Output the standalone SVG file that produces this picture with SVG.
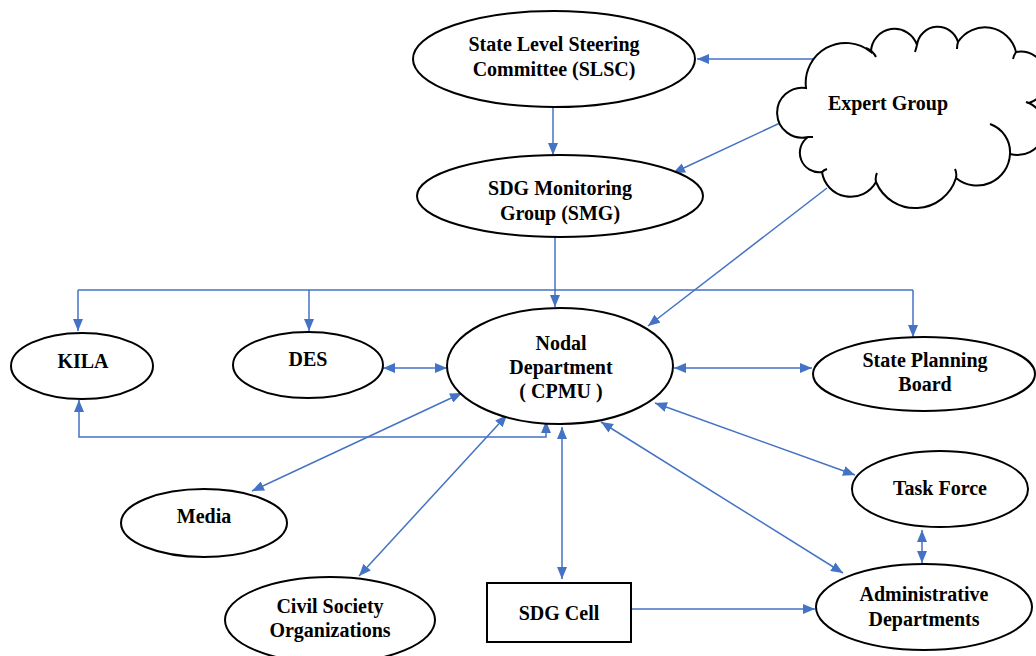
<svg xmlns="http://www.w3.org/2000/svg" width="1036" height="656" viewBox="0 0 1036 656">
<style>
.n{fill:#fff;stroke:#000;stroke-width:2}
.h{fill:none;stroke:#000;stroke-width:2}
.t{font-family:"Liberation Serif","Times New Roman",serif;font-weight:bold;font-size:20px;fill:#000;text-anchor:middle}
.c{fill:none;stroke:#4472C4;stroke-width:1.5}
.e{marker-end:url(#ah)}
.b{marker-start:url(#ah);marker-end:url(#ah)}
</style>
<defs>
<marker id="ah" markerUnits="userSpaceOnUse" markerWidth="12" markerHeight="10" viewBox="0 0 12 10" refX="12" refY="5" orient="auto-start-reverse">
<path d="M0,0 L12,5 L0,10 Z" fill="#4472C4"/>
</marker>
</defs>
<rect width="1036" height="656" fill="#fff"/>
<g id="connectors">
<path class="c e" d="M553,108 L553,155"/>
<path class="c e" d="M813,59 L697,59"/>
<path class="c e" d="M780,123 L673,173"/>
<path class="c e" d="M827,188 L648,326"/>
<path class="c e" d="M555,237 L555,307"/>
<path class="c" d="M78,290 L913,290"/>
<path class="c e" d="M78,290 L78,331"/>
<path class="c e" d="M309,290 L309,331"/>
<path class="c e" d="M913,290 L913,337"/>
<path class="c b" d="M383,368 L447,368"/>
<path class="c b" d="M674,368 L812,368"/>
<path class="c b" d="M79,400 L79,437 L546,437 L546,421"/>
<path class="c b" d="M462,393 L252,491"/>
<path class="c b" d="M507,415 L359,576"/>
<path class="c b" d="M562,427 L562,579"/>
<path class="c b" d="M655,403 L855,475"/>
<path class="c b" d="M601,422 L843,573"/>
<path class="c b" d="M922,530 L922,563"/>
<path class="c e" d="M631,609 L815,609"/>
</g>
<g id="expert">
<path class="n" d="M808,137 A25,25 0 1 1 806,88 A40,40 0 0 1 871,52 A23.6,23.6 0 0 1 917,45 A21,21 0 0 1 958,42 A32,32 0 0 1 1016,52 A26.4,26.4 0 0 1 1029,103 A27.3,27.3 0 0 1 1010,154 A33,33 0 0 1 956,178 A42.6,42.6 0 0 1 876,182 A29,29 0 0 1 822,172 A19.4,19.4 0 0 1 808,137 Z"/>
<path class="h" d="M866,48 Q873,51 876,57 M917,45 Q916,49 915,52 M958,42 Q957,45 957,49 M1016,52 Q1014,55 1013,59 M1029,103 L1026,102 M990,124 A30,30 0 0 1 1010,154 M956,178 Q957,173 955,169 M876,182 Q875,177 877,173 M822,172 Q824,170 827,169 M808,137 L813,137"/>
<text class="t" x="888" y="110">Expert Group</text>
</g>
<g id="slsc">
<ellipse class="n" cx="554" cy="59" rx="141" ry="48"/>
<text class="t" x="554" y="51">State Level Steering</text>
<text class="t" x="554" y="76">Committee (SLSC)</text>
</g>
<g id="smg">
<ellipse class="n" cx="560" cy="196" rx="143" ry="41"/>
<text class="t" x="560" y="195">SDG Monitoring</text>
<text class="t" x="560" y="220">Group (SMG)</text>
</g>
<g id="nodal">
<ellipse class="n" cx="560" cy="366" rx="113" ry="58"/>
<text class="t" x="561" y="350">Nodal</text>
<text class="t" x="561" y="374">Department</text>
<text class="t" x="561" y="398">( CPMU )</text>
</g>
<g id="kila">
<ellipse class="n" cx="82" cy="366" rx="71" ry="33"/>
<text class="t" x="83" y="368">KILA</text>
</g>
<g id="des">
<ellipse class="n" cx="308" cy="365" rx="75" ry="33"/>
<text class="t" x="308" y="366">DES</text>
</g>
<g id="spb">
<ellipse class="n" cx="924" cy="374" rx="111" ry="37"/>
<text class="t" x="925" y="367">State Planning</text>
<text class="t" x="925" y="391">Board</text>
</g>
<g id="taskforce">
<ellipse class="n" cx="940" cy="489" rx="88" ry="38"/>
<text class="t" x="940" y="495">Task Force</text>
</g>
<g id="admin">
<ellipse class="n" cx="924" cy="607" rx="108" ry="43"/>
<text class="t" x="924" y="601">Administrative</text>
<text class="t" x="924" y="626">Departments</text>
</g>
<g id="media">
<ellipse class="n" cx="204" cy="523" rx="83" ry="34"/>
<text class="t" x="204" y="523">Media</text>
</g>
<g id="cso">
<ellipse class="n" cx="330" cy="620" rx="105" ry="43"/>
<text class="t" x="330" y="613">Civil Society</text>
<text class="t" x="330" y="637">Organizations</text>
</g>
<g id="sdgcell">
<rect class="n" x="487" y="583" width="144" height="59"/>
<text class="t" x="559" y="620">SDG Cell</text>
</g>
</svg>
